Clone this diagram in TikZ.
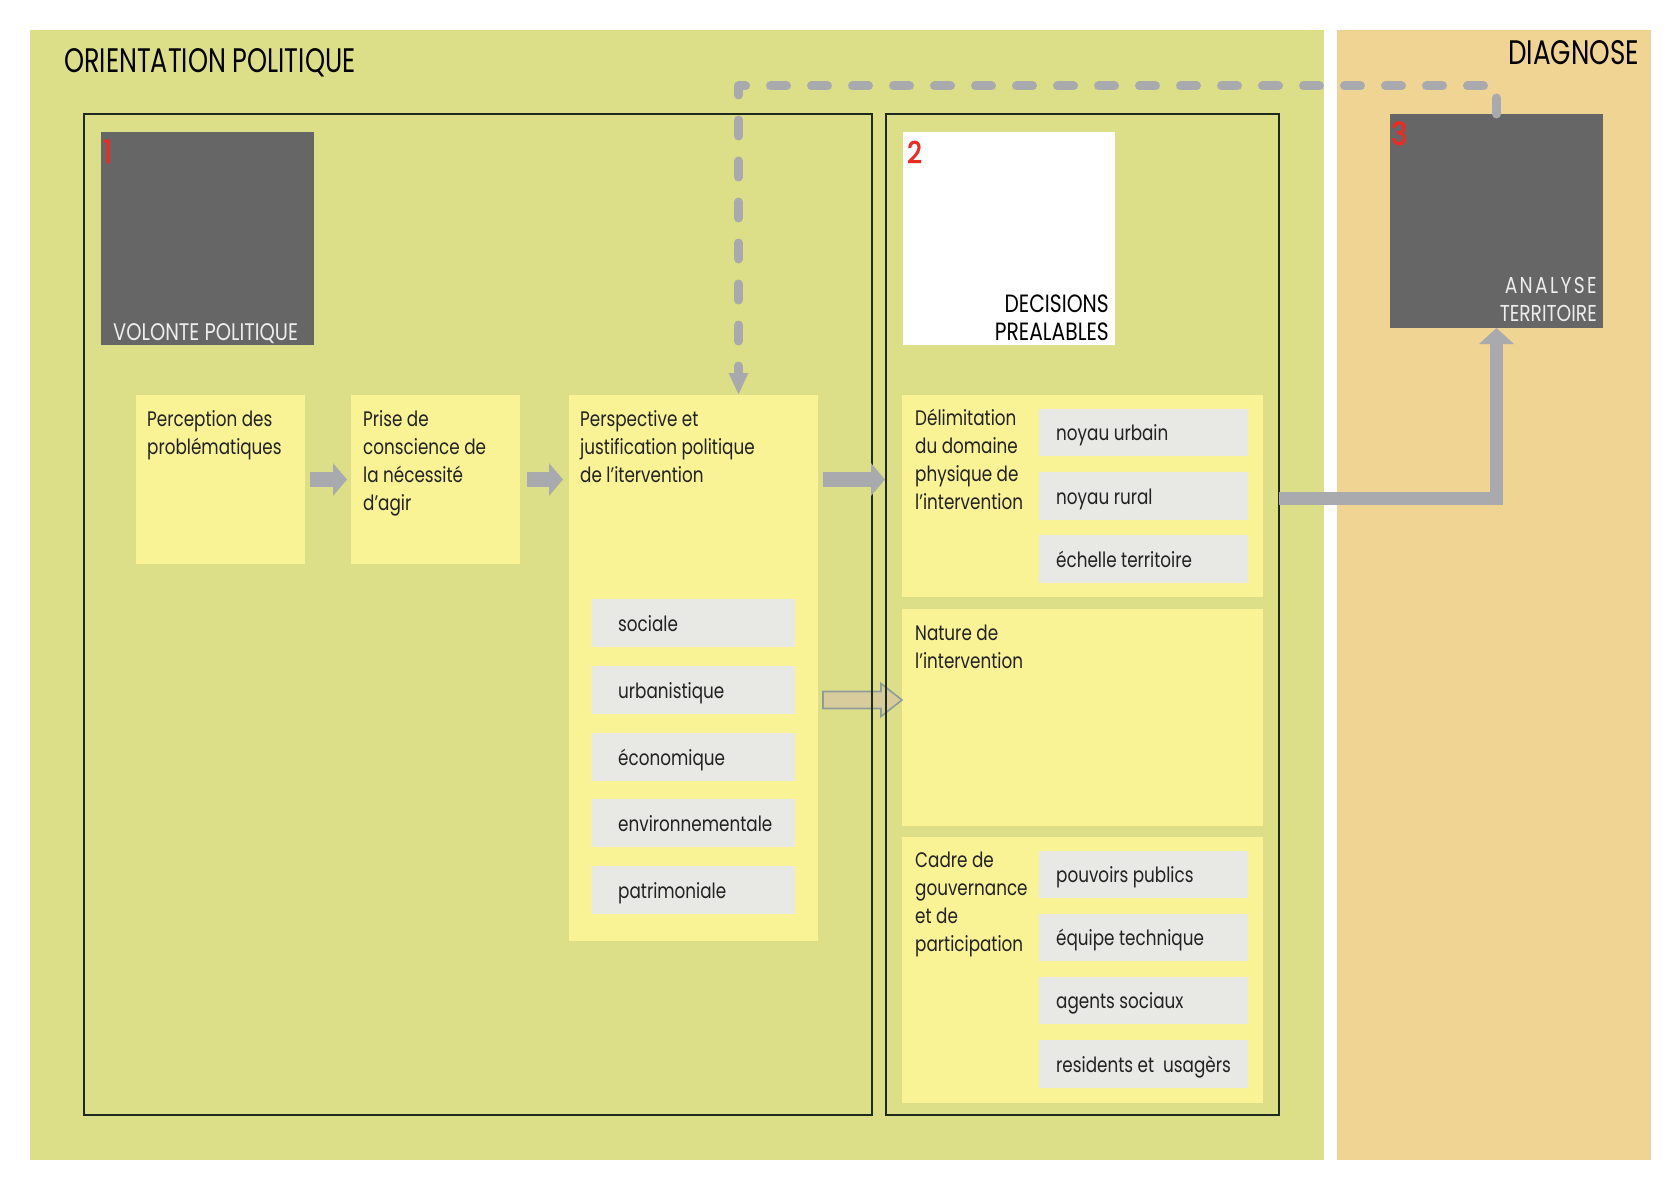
\documentclass[tikz,border=0pt]{standalone}
\usepackage{fontspec}
\setmainfont{Poppins}[FakeStretch=0.8]
\newfontfamily\capsfam{Poppins}[FakeStretch=0.81]
\newfontfamily\titlefam{Poppins}[FakeStretch=0.75]
\newfontfamily\diagfam{Poppins}[FakeStretch=0.77]
\newfontfamily\numfam{Poppins}[FakeStretch=0.85,FakeBold=2]
\usetikzlibrary{arrows.meta,calc,fit}
\definecolor{panelgreen}{HTML}{DDDE88}
\definecolor{panelorange}{HTML}{F0D494}
\definecolor{boxyellow}{HTML}{F9F396}
\definecolor{boxgrey}{HTML}{E8E8E4}
\definecolor{darkbox}{HTML}{666666}
\definecolor{arrowgrey}{HTML}{A9AAAD}
\definecolor{tanfill}{HTML}{D8CC9C}
\definecolor{tanline}{HTML}{8F9C9C}
\definecolor{numred}{HTML}{F02A22}
\definecolor{lighttext}{HTML}{EDEDED}
\definecolor{outlinecol}{HTML}{1E2A1E}
\definecolor{textcol}{HTML}{222222}
\newcommand\fl{\rule{0pt}{20pt}}
\newcommand\bodysize{\fontsize{21pt}{28pt}\selectfont}
\newcommand\lk{\kern2.4pt}
\begin{document}
\begin{tikzpicture}[x=1pt,y=-1pt,
  panel/.style={inner sep=0pt, outer sep=0pt},
  outl/.style={draw=outlinecol, line width=2pt, inner sep=0pt, outer sep=0pt},
  dbox/.style={fill=darkbox, inner sep=0pt, outer sep=0pt},
  wbox/.style={fill=white, inner sep=0pt, outer sep=0pt},
  ybox/.style={fill=boxyellow, inner sep=0pt, outer sep=0pt},
  gbox/.style={fill=boxgrey, inner sep=0pt, outer sep=0pt},
  btext/.style={font=\bodysize, text=textcol, align=left, inner sep=0pt, anchor=north west},
  gtext/.style={font=\bodysize, text=textcol, inner sep=0pt, anchor=base west},
  captitle/.style={font=\titlefam\fontsize{34pt}{36pt}\selectfont, text=black, inner sep=0pt},
  caplabel/.style={font=\capsfam\fontsize{24pt}{28pt}\selectfont, inner sep=0pt, align=right},
  num/.style={font=\numfam\fontsize{32pt}{34pt}\selectfont, text=numred, inner sep=0pt, anchor=base west},
  bigarrow/.style={draw=arrowgrey, line width=15pt, -{Triangle[length=14pt,width=32pt]}},
  elbowarrow/.style={draw=arrowgrey, line width=13pt, line join=miter, -{Triangle[length=16pt,width=34pt]}},
  dashconn/.style={draw=arrowgrey, line width=9pt, line cap=round, line join=round, dash pattern=on 16pt off 25pt, -{Triangle[length=22pt,width=18pt]}},
  tanarrow/.style={fill=tanfill, draw=tanline, line width=1.6pt, line join=miter}
]
\path[use as bounding box, fill=white] (0,0) rectangle (1668,1180);

% panels
\node (PG) [panel, fill=panelgreen, fit={(30,30) (1324,1160)}] {};
\node (PO) [panel, fill=panelorange, fit={(1337,30) (1651,1160)}] {};
\node (T1) [captitle, anchor=base west] at ($(PG.north west)+(34,43)$) {ORIENTATION POLITIQUE};
\node (T2) [captitle, font=\diagfam\fontsize{34pt}{36pt}\selectfont, anchor=base east] at ($(PO.north east)+(-12,35)$) {DIAGNOSE};

% yellow boxes
\node (A) [ybox, fit={(136,395) (305,564)}] {};
\node (B) [ybox, fit={(351,395) (520,564)}] {};
\node (C) [ybox, fit={(569,395) (818,941)}] {};
\node (D) [ybox, fit={(902,395) (1263,597)}] {};
\node (E) [ybox, fit={(902,609) (1263,826)}] {};
\node (F) [ybox, fit={(902,837) (1263,1103)}] {};

% tan arrow C -> E
\coordinate (ta0) at ($(C.east)+(5,32)$);
\coordinate (ta1) at (E.west |- ta0);
\draw[tanarrow] ($(ta0)+(0,-8.5)$) -- ($(ta1)+(-21,-8.5)$) -- ($(ta1)+(-21,-16.5)$) -- (ta1)
  -- ($(ta1)+(-21,16.5)$) -- ($(ta1)+(-21,8.5)$) -- ($(ta0)+(0,8.5)$) -- cycle;

% outline frames
\node (O1) [outl, fit={(84,114) (872,1115)}] {};
\node (O2) [outl, fit={(886,114) (1279,1115)}] {};

% key boxes
\node (V) [dbox, fit={(101,132) (314,345)}] {};
\node (W) [wbox, fit={(903,132) (1115,345)}] {};
\node (D3) [dbox, fit={(1390,114) (1603,328)}] {};
\node (n1) [num] at ($(V.north west)+(2,31)$) {1};
\node (n2) [num, font=\numfam\fontsize{30pt}{32pt}\selectfont] at ($(W.north west)+(4,31)$) {2};
\node (n3) [num] at ($(D3.north west)+(1,31)$) {3};
\node (Vt) [caplabel, text=lighttext, anchor=base west] at ($(V.south west)+(12,-5)$) {VOLONTE POLITIQUE};
\node (Wt) [caplabel, text=black, anchor=north east, font=\capsfam\fontsize{25pt}{28pt}\selectfont] at ($(W.south east)+(-6,-53)$) {\fl DECISIONS\\PREALABLES};
\node (D3t) [caplabel, text=lighttext, anchor=north east, font=\capsfam\fontsize{23pt}{28pt}\selectfont] at ($(D3.south east)+(-6,-55)$) {\fl A\lk N\lk A\lk L\lk Y\lk S\lk E\\TERRITOIRE};

% texts in yellow boxes
\node (At) [btext] at ($(A.north west)+(11,11)$) {\fl Perception des\\problématiques};
\node (Bt) [btext] at ($(B.north west)+(12,11)$) {\fl Prise de\\conscience de\\la nécessité\\d'agir};
\node (Ct) [btext] at ($(C.north west)+(11,11)$) {\fl Perspective et\\justification politique\\de l'itervention};
\node (Dt) [btext] at ($(D.north west)+(13,10)$) {\fl Délimitation\\du domaine\\physique de\\l'intervention};
\node (Et) [btext] at ($(E.north west)+(13,11)$) {\fl Nature de\\l'intervention};
\node (Ft) [btext] at ($(F.north west)+(13,10)$) {\fl Cadre de\\gouvernance\\et de\\participation};

% grey boxes in C
\node (g1) [gbox, fit={(592,599) (795,647)}] {};
\node (g2) [gbox, fit={(592,666) (795,714)}] {};
\node (g3) [gbox, fit={(592,733) (795,781)}] {};
\node (g4) [gbox, fit={(592,799) (795,847)}] {};
\node (g5) [gbox, fit={(592,866) (795,914)}] {};
\node (g1t) [gtext] at ($(g1.west)+(26,8)$) {sociale};
\node (g2t) [gtext] at ($(g2.west)+(26,8)$) {urbanistique};
\node (g3t) [gtext] at ($(g3.west)+(26,8)$) {économique};
\node (g4t) [gtext] at ($(g4.west)+(26,8)$) {environnementale};
\node (g5t) [gtext] at ($(g5.west)+(26,8)$) {patrimoniale};

% grey boxes in D
\node (h1) [gbox, fit={(1039,409) (1248,456)}] {};
\node (h2) [gbox, fit={(1039,472) (1248,520)}] {};
\node (h3) [gbox, fit={(1039,535) (1248,583)}] {};
\node (h1t) [gtext] at ($(h1.west)+(17,8)$) {noyau urbain};
\node (h2t) [gtext] at ($(h2.west)+(17,8)$) {noyau rural};
\node (h3t) [gtext] at ($(h3.west)+(17,8)$) {échelle territoire};

% grey boxes in F
\node (k1) [gbox, fit={(1039,851) (1248,898)}] {};
\node (k2) [gbox, fit={(1039,914) (1248,961)}] {};
\node (k3) [gbox, fit={(1039,977) (1248,1024)}] {};
\node (k4) [gbox, fit={(1039,1040) (1248,1088)}] {};
\node (k1t) [gtext] at ($(k1.west)+(17,8)$) {pouvoirs publics};
\node (k2t) [gtext] at ($(k2.west)+(17,8)$) {équipe technique};
\node (k3t) [gtext] at ($(k3.west)+(17,8)$) {agents sociaux};
\node (k4t) [gtext] at ($(k4.west)+(17,8)$) {residents et\ \ usagèrs};

% grey block arrows
\draw[bigarrow, shorten <=5pt, shorten >=4pt] (A.east) -- (B.west);
\draw[bigarrow, shorten <=7pt, shorten >=6pt] (B.east) -- (B.east -| C.west);
\draw[bigarrow, shorten <=5pt, shorten >=1pt] (B.east -| C.east) -- (B.east -| O2.west);
\draw[elbowarrow] ($(O2.north east)+(0,384)$) -| (D3.south);

% dashed connector from analyse territoire to perspective
\draw[dashconn] (D3.north) -- ++(0,-28) -| ($(C.north)+(45,0)$);
\end{tikzpicture}
\end{document}
